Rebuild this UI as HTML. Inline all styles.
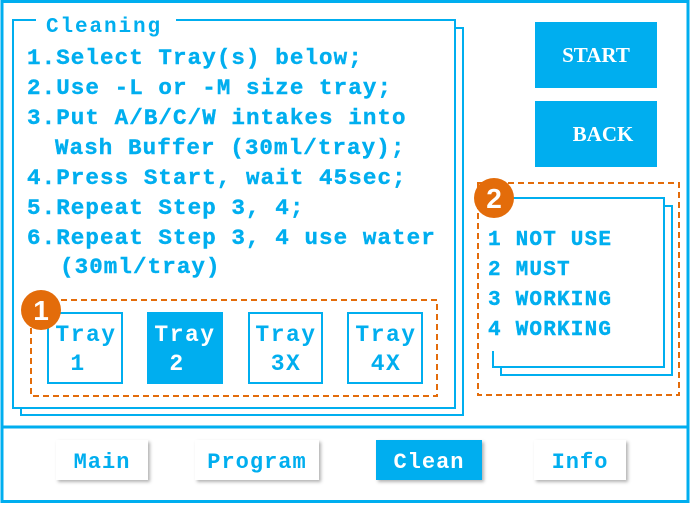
<!DOCTYPE html>
<html><head><meta charset="utf-8"><style>
html,body{margin:0;padding:0;background:#fff;}
svg{display:block;}
.m{font-family:"Liberation Mono",monospace;font-weight:bold;}
.s{font-family:"Liberation Serif",serif;font-weight:bold;}
.a{font-family:"Liberation Sans",sans-serif;font-weight:bold;}
</style></head><body>
<svg width="691" height="505" viewBox="0 0 691 505" xmlns="http://www.w3.org/2000/svg">
<defs>
<filter id="sh" x="-20%" y="-20%" width="150%" height="160%"><feDropShadow dx="2" dy="2" stdDeviation="1.5" flood-color="#000" flood-opacity="0.3"/></filter>
</defs>
<rect x="0" y="0" width="691" height="505" fill="#fff"/>
<rect x="2" y="1.5" width="686" height="500" fill="none" stroke="#00AEEF" stroke-width="3"/>
<line x1="2" y1="427" x2="688" y2="427" stroke="#00AEEF" stroke-width="3"/>
<rect x="21" y="28" width="442" height="387" fill="#fff" stroke="#00AEEF" stroke-width="2"/>
<rect x="13" y="20" width="442" height="388" fill="#fff" stroke="#00AEEF" stroke-width="2"/>
<rect x="36" y="12" width="140" height="16" fill="#fff"/>
<g class="m" fill="#00AEEF" stroke="#00AEEF" stroke-width="0.4" font-size="22.5" letter-spacing="1.1">
<text class="m" x="46" y="32" font-size="21" letter-spacing="1.9" stroke-width="0">Cleaning</text>
<text class="m" x="27" y="64">1.Select Tray(s) below;</text>
<text class="m" x="27" y="94">2.Use -L or -M size tray;</text>
<text class="m" x="27" y="124">3.Put A/B/C/W intakes into</text>
<text class="m" x="55" y="154">Wash Buffer (30ml/tray);</text>
<text class="m" x="27" y="184">4.Press Start, wait 45sec;</text>
<text class="m" x="27" y="214">5.Repeat Step 3, 4;</text>
<text class="m" x="27" y="244">6.Repeat Step 3, 4 use water</text>
<text class="m" x="60" y="273">(30ml/tray)</text>
</g>
<rect x="31" y="300" width="406" height="96" fill="none" stroke="#E36C0A" stroke-width="2" stroke-dasharray="6,4"/>
<rect x="48" y="313" width="74" height="70" fill="#fff" stroke="#00AEEF" stroke-width="2"/>
<rect x="147" y="312" width="76" height="72" fill="#00AEEF"/>
<rect x="249" y="313" width="73" height="70" fill="#fff" stroke="#00AEEF" stroke-width="2"/>
<rect x="348" y="313" width="74" height="70" fill="#fff" stroke="#00AEEF" stroke-width="2"/>
<g font-size="23" text-anchor="middle" letter-spacing="1.5">
<text class="m" x="86" y="341" fill="#00AEEF">Tray</text><text class="m" x="78" y="370" fill="#00AEEF">1</text>
<text class="m" x="185" y="341" fill="#fff">Tray</text><text class="m" x="177" y="370" fill="#fff">2</text>
<text class="m" x="286" y="341" fill="#00AEEF">Tray</text><text class="m" x="286" y="370" fill="#00AEEF">3X</text>
<text class="m" x="386" y="341" fill="#00AEEF">Tray</text><text class="m" x="386" y="370" fill="#00AEEF">4X</text>
</g>
<circle cx="41" cy="310" r="20" fill="#E36C0A"/>
<text class="a" x="41" y="320" fill="#fff" font-size="28" text-anchor="middle">1</text>
<rect x="535" y="22" width="122" height="66" fill="#00AEEF"/>
<rect x="535" y="101" width="122" height="66" fill="#00AEEF"/>
<text class="s" x="596" y="62" fill="#fff" font-size="21" text-anchor="middle">START</text>
<text class="s" x="603" y="141" fill="#fff" font-size="21" text-anchor="middle">BACK</text>
<rect x="478" y="183" width="201" height="212" fill="none" stroke="#E36C0A" stroke-width="2" stroke-dasharray="6,4"/>
<rect x="501" y="206" width="171" height="169" fill="#fff" stroke="#00AEEF" stroke-width="2"/>
<rect x="493" y="198" width="171" height="169" fill="#fff" stroke="#00AEEF" stroke-width="2"/>
<rect x="487" y="199" width="10" height="152" fill="#fff"/>
<g fill="#00AEEF" stroke="#00AEEF" stroke-width="0.4" font-size="21" letter-spacing="1.2">
<text class="m" x="488" y="245">1 NOT USE</text>
<text class="m" x="488" y="275">2 MUST</text>
<text class="m" x="488" y="305">3 WORKING</text>
<text class="m" x="488" y="335">4 WORKING</text>
</g>
<circle cx="494" cy="198" r="20" fill="#E36C0A"/>
<text class="a" x="494" y="208" fill="#fff" font-size="28" text-anchor="middle">2</text>
<rect x="56" y="440" width="92" height="40" fill="#fff" filter="url(#sh)"/>
<rect x="195" y="440" width="124" height="40" fill="#fff" filter="url(#sh)"/>
<rect x="376" y="440" width="106" height="40" fill="#00AEEF" filter="url(#sh)"/>
<rect x="534" y="440" width="92" height="40" fill="#fff" filter="url(#sh)"/>
<g font-size="22" text-anchor="middle" letter-spacing="1">
<text class="m" x="102" y="468" fill="#00AEEF">Main</text>
<text class="m" x="257" y="468" fill="#00AEEF">Program</text>
<text class="m" x="429" y="468" fill="#fff">Clean</text>
<text class="m" x="580" y="468" fill="#00AEEF">Info</text>
</g>
</svg>
</body></html>
